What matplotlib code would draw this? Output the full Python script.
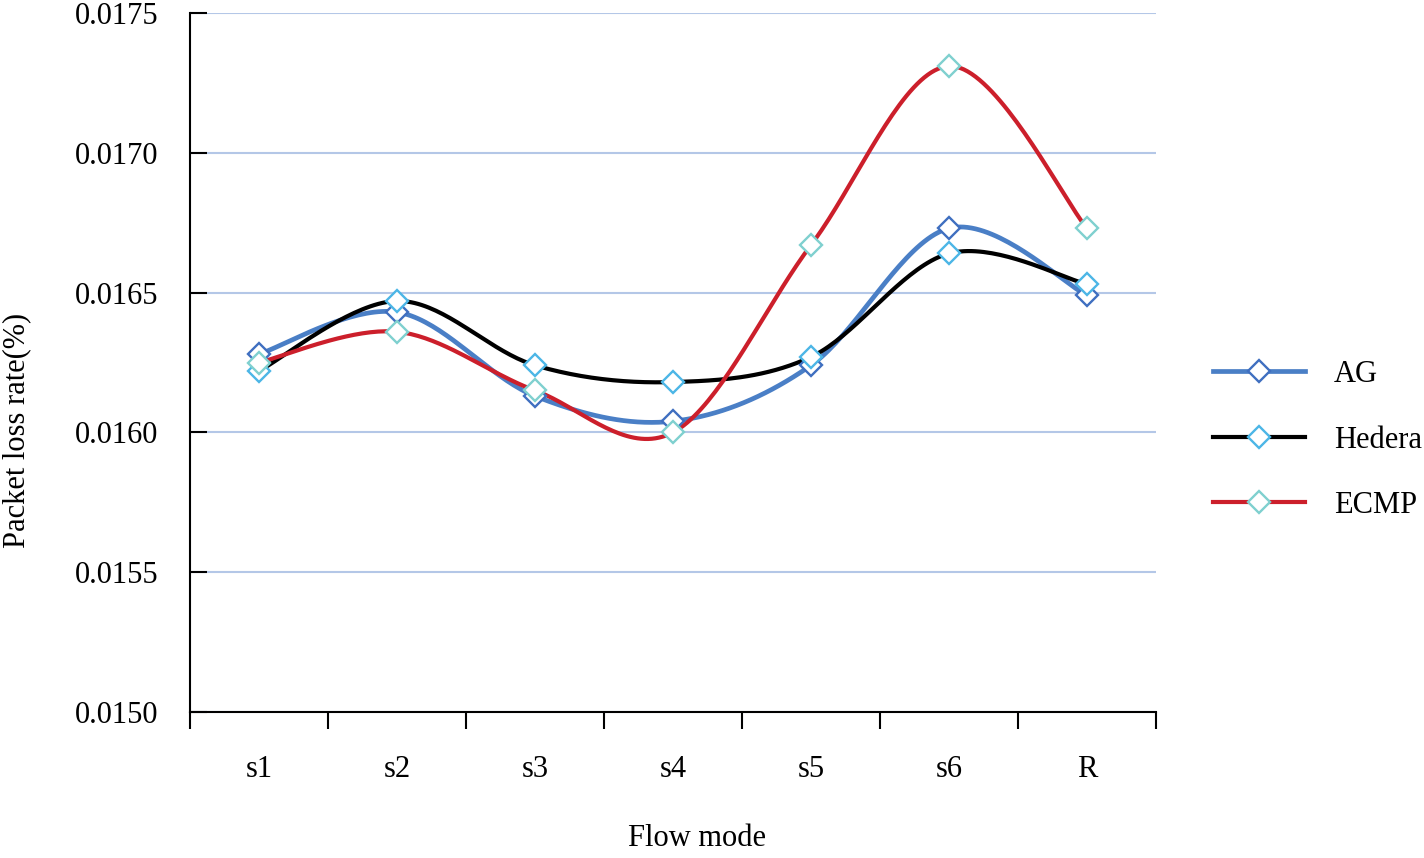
import numpy as np
import matplotlib
matplotlib.use("Agg")
import matplotlib.pyplot as plt
from matplotlib.lines import Line2D

categories = ["s1", "s2", "s3", "s4", "s5", "s6", "R"]
ag = [0.01628, 0.01643, 0.01613, 0.01604, 0.01624, 0.01673, 0.01649]
hedera = [0.01622, 0.01647, 0.01624, 0.01618, 0.01627, 0.01664, 0.01653]
ecmp = [0.01625, 0.01636, 0.01615, 0.01600, 0.01667, 0.01731, 0.01673]

series = [
    ("AG", ag, "#4a7fc6", "#3f6fc0", 3.4),
    ("Hedera", hedera, "#000000", "#4cb6e6", 3.0),
    ("ECMP", ecmp, "#cc1f2b", "#7fd0cf", 3.0),
]

plt.rcParams["font.family"] = ["Liberation Serif", "DejaVu Serif"]

def smooth(xs, ys, n=40):
    xs = np.asarray(xs, float)
    ys = np.asarray(ys, float)
    ox, oy = [], []
    m = len(xs)
    for i in range(m - 1):
        p0 = i - 1 if i > 0 else i
        p3 = i + 2 if i + 2 < m else i + 1
        c1x = xs[i] + (xs[i + 1] - xs[p0]) / 6
        c1y = ys[i] + (ys[i + 1] - ys[p0]) / 6
        c2x = xs[i + 1] - (xs[p3] - xs[i]) / 6
        c2y = ys[i + 1] - (ys[p3] - ys[i]) / 6
        t = np.linspace(0, 1, n)
        bx = (1 - t) ** 3 * xs[i] + 3 * (1 - t) ** 2 * t * c1x + 3 * (1 - t) * t ** 2 * c2x + t ** 3 * xs[i + 1]
        by = (1 - t) ** 3 * ys[i] + 3 * (1 - t) ** 2 * t * c1y + 3 * (1 - t) * t ** 2 * c2y + t ** 3 * ys[i + 1]
        ox.extend(bx)
        oy.extend(by)
    return np.array(ox), np.array(oy)

fig = plt.figure(figsize=(14.24, 8.58), dpi=100)
ax = fig.add_axes([190 / 1424, 1 - 712 / 858, (1156 - 190) / 1424, (712 - 13) / 858])

x = np.arange(len(categories))
handles = []
for name, vals, lc, mc, lw in series:
    sx, sy = smooth(x, vals)
    ax.plot(sx, sy, color=lc, lw=lw, solid_capstyle="round", zorder=3)
    ax.plot(x, vals, ls="none", marker="D", ms=11.5, mfc="white", mec=mc, mew=1.7, zorder=4)
    handles.append(Line2D([0], [0], color=lc, lw=lw, marker="D", ms=11.5, mfc="white", mec=mc, mew=1.7))

ax.set_xlim(-0.5, len(categories) - 0.5)
ax.set_ylim(0.0150, 0.0175)
yt = [0.0150, 0.0155, 0.0160, 0.0165, 0.0170, 0.0175]
ax.set_yticks(yt)
ax.set_yticklabels([f"{v:.4f}" for v in yt], fontsize=22)
ax.yaxis.grid(True, color="#b4c7e7", lw=1.5)
ax.set_axisbelow(True)
ax.tick_params(axis="y", direction="in", length=12, width=1.5, pad=23)

ax.set_xticks(np.arange(-0.5, len(categories), 1.0))
ax.set_xticklabels([])
ax.set_xticks(x, minor=True)
ax.set_xticklabels(categories, minor=True, fontsize=22)
ax.tick_params(axis="x", which="major", direction="out", length=12, width=1.5)
ax.tick_params(axis="x", which="minor", length=0, pad=31)

for s in ["top", "right"]:
    ax.spines[s].set_visible(False)
for s in ["left", "bottom"]:
    ax.spines[s].set_linewidth(1.5)

fig.text(697 / 1424, 1 - 838 / 858, "Flow mode", fontsize=22, ha="center", va="center")
fig.text(17 / 1424, 1 - 430 / 858, "Packet loss rate(%)", fontsize=22, ha="center", va="center", rotation=90)

leg = fig.legend(handles, [s[0] for s in series], loc="center left",
                 bbox_to_anchor=(1213 / 1424, 1 - 440 / 858), frameon=False,
                 fontsize=22, handlelength=3.0, labelspacing=1.2, handletextpad=0.95,
                 borderpad=0, borderaxespad=0)

fig.savefig("out.png", dpi=100)
